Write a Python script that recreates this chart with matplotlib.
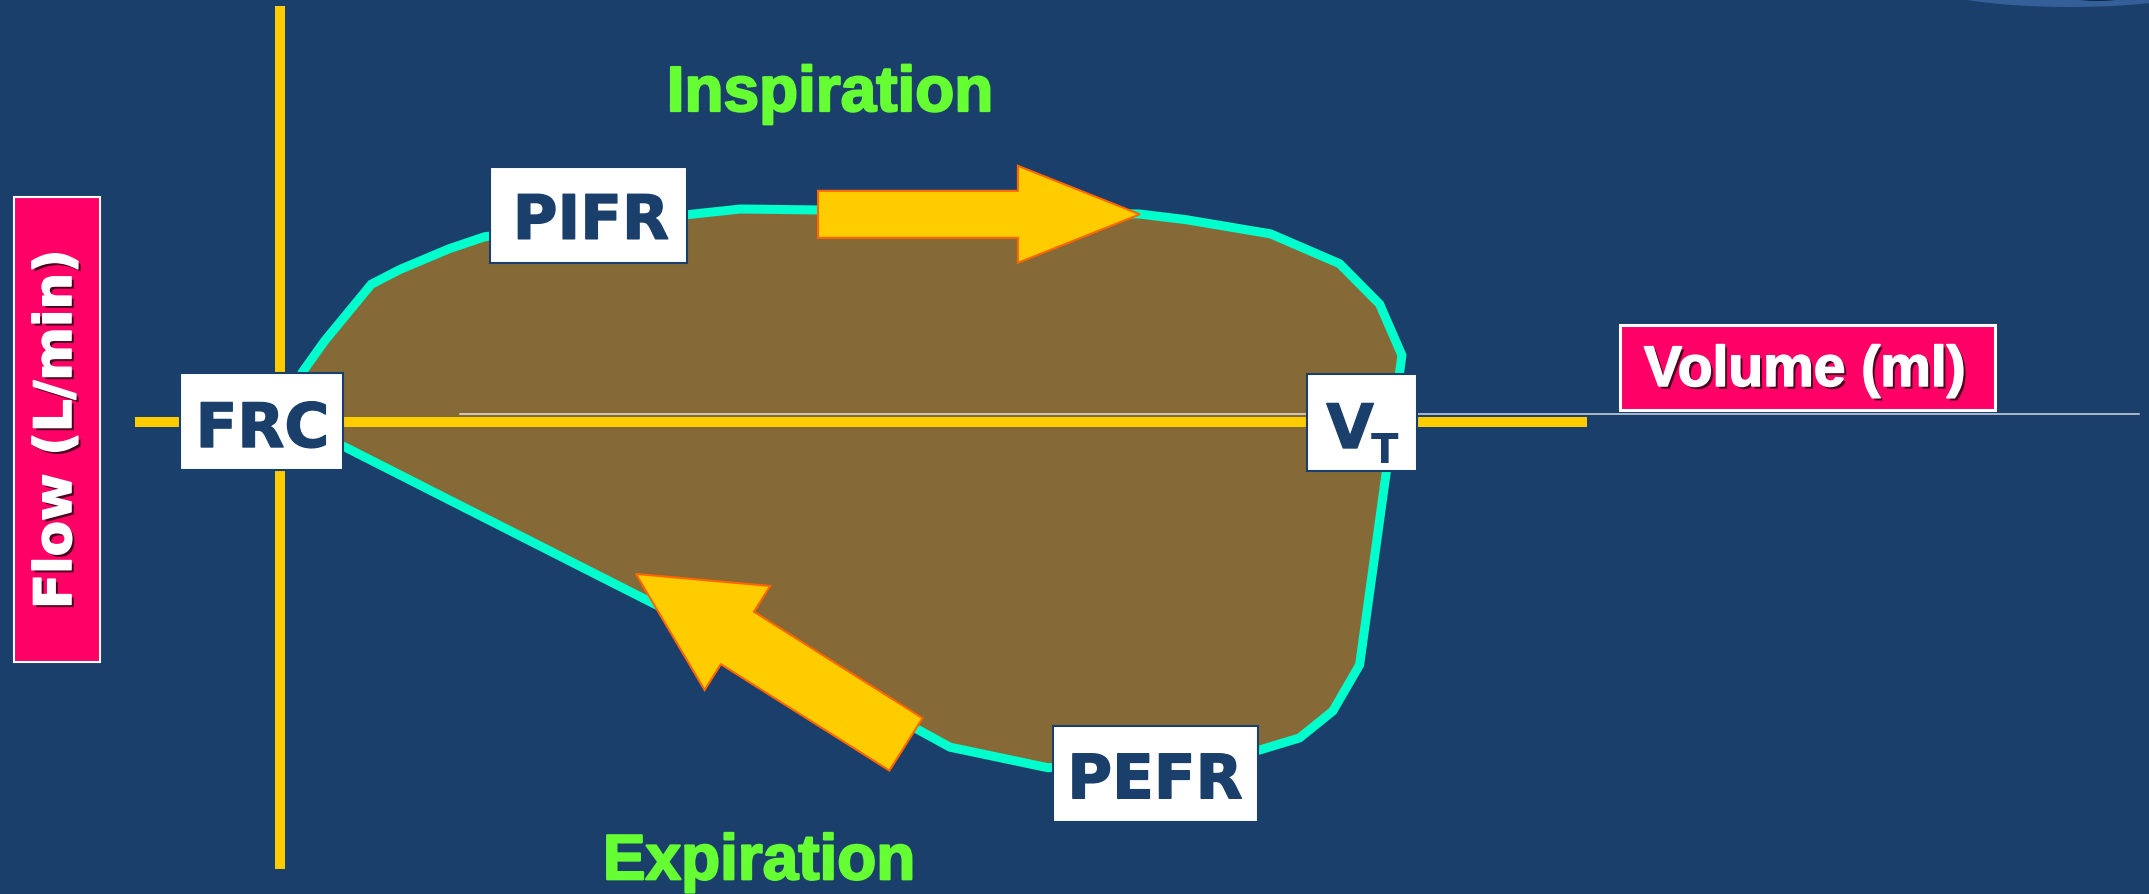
import numpy as np
import matplotlib.pyplot as plt
import matplotlib.patheffects as pe
from matplotlib.patches import Polygon, Rectangle, Ellipse
from matplotlib.transforms import IdentityTransform

# flow-volume loop: volume in ml, flow in L/min (inspiration drawn upward)
insp_volume = [0, 10, 20, 41, 54, 76, 92, 183, 207, 386, 407, 445, 476, 494, 504, 500]
insp_flow = [0, 7.0, 11.4, 19.4, 21.5, 24.4, 26.1, 29.2, 30.0, 29.3, 28.5, 26.5, 22.3, 16.6, 9.4, 0]
exp_volume = [500, 497, 485, 473, 458, 439, 345, 301, 287, 168, 29, 0]
exp_flow = [0, -7.0, -34.2, -40.7, -44.5, -46.3, -48.7, -45.8, -43.4, -25.6, -3.5, 0]

point_labels = ["FRC", "PIFR", "PEFR"]
phase_labels = ["Inspiration", "Expiration"]
x_title = "Volume (ml)"
y_title = "Flow (L/min)"

BG = "#1B3F6B"
NAVY = "#1B3F6B"
YELLOW = "#FFCC00"
ORANGE = "#FF6600"
CYAN = "#00FFCC"
BROWN = "#856A38"
PINK = "#FF0066"
GREEN = "#66FF33"

# pixel scale of the picture (2149 x 895 at dpi 100)
PX_ML = 2.226
PX_LMIN = 7.1
W, H = 2149, 895
X0, Y0 = 280, 423

fig = plt.figure(figsize=(W / 100, H / 100), dpi=100, facecolor=BG)
ax = fig.add_axes([0, 0, 1, 1])
ax.set_facecolor(BG)
ax.set_xlim(-X0 / PX_ML, (W - X0) / PX_ML)
ax.set_ylim(-(H - Y0) / PX_LMIN, Y0 / PX_LMIN)
ax.axis("off")


def block_arrow(tail, tip, body, head, head_len, **kw):
    # arrow shape built in pixels so it is not sheared by the axes scale
    p0 = ax.transData.transform(tail)
    p1 = ax.transData.transform(tip)
    d = p1 - p0
    u = d / np.hypot(*d)
    n = np.array([-u[1], u[0]])
    base = p1 - u * head_len
    pts = [p0 + n * body / 2, base + n * body / 2, base + n * head / 2, p1,
           base - n * head / 2, base - n * body / 2, p0 - n * body / 2]
    ax.add_patch(Polygon(pts, closed=True, transform=IdentityTransform(), **kw))


def white_box(cx, cy, w, h):
    ax.add_patch(Rectangle((cx - w / 2, cy - h / 2), w, h, facecolor="white",
                           edgecolor=NAVY, lw=1.5, zorder=6))


# loop
loop_v = insp_volume + exp_volume[1:]
loop_f = insp_flow + exp_flow[1:]
ax.fill(loop_v, loop_f, color=BROWN, zorder=1)
ax.plot(loop_v, loop_f, color=CYAN, lw=6.5, solid_joinstyle="miter", zorder=2)

# axes
ax.plot([-65, 587], [0, 0], color=YELLOW, lw=7.2, solid_capstyle="butt", zorder=3)
ax.plot([0, 0], [58.6, -63.0], color=YELLOW, lw=7.2, solid_capstyle="butt", zorder=3)
ax.plot([81, 835], [1.06, 1.06], color="white", lw=1.1, alpha=0.8, zorder=3)

# direction arrows
block_arrow((241.7, 29.25), (386.3, 29.25), 47, 97, 122,
            facecolor=YELLOW, edgecolor=ORANGE, lw=1.5, zorder=5)
block_arrow((281.2, -45.4), (159.9, -21.4), 62, 123, 120,
            facecolor=YELLOW, edgecolor=ORANGE, lw=1.5, zorder=5)

# point labels
heavy_navy = [pe.withStroke(linewidth=1.0, foreground=NAVY)]
white_box(-8.3, 0.07, 73.2, 13.7)
ax.text(-7.9, -3.52, point_labels[0], ha="center", va="baseline", fontsize=44,
        fontweight="bold", color=NAVY, path_effects=heavy_navy, zorder=7)
white_box(138.6, 29.2, 88.5, 13.5)
ax.text(139.7, 25.8, point_labels[1], ha="center", va="baseline", fontsize=44,
        fontweight="bold", color=NAVY, path_effects=heavy_navy, zorder=7)
white_box(393.3, -49.6, 92.1, 13.5)
ax.text(393.1, -53.0, point_labels[2], ha="center", va="baseline", fontsize=44,
        fontweight="bold", color=NAVY, path_effects=heavy_navy, zorder=7)
white_box(486.0, -0.07, 49.4, 13.7)
ax.text(480.7, -3.66, "V", ha="center", va="baseline", fontsize=44,
        fontweight="bold", color=NAVY, path_effects=heavy_navy, zorder=7)
ax.text(496.2, -5.63, "T", ha="center", va="baseline", fontsize=29,
        fontweight="bold", color=NAVY, zorder=7)

# phase labels
heavy_green = [pe.withStroke(linewidth=1.6, foreground=GREEN)]
ax.text(247.1, 43.8, phase_labels[0], ha="center", va="baseline", fontsize=46,
        fontweight="bold", color=GREEN, family="Liberation Sans",
        path_effects=heavy_green)
ax.text(215.2, -64.4, phase_labels[1], ha="center", va="baseline", fontsize=46,
        fontweight="bold", color=GREEN, family="Liberation Sans",
        path_effects=heavy_green)

shadow = [pe.withSimplePatchShadow(offset=(2, -2), shadow_rgbFace="black", alpha=0.7),
          pe.withStroke(linewidth=1.2, foreground="white")]

# axis titles
ax.add_patch(Rectangle((-119.5, -33.8), 38.6, 65.5, facecolor=PINK,
                       edgecolor="white", lw=1.5, zorder=6))
ax.text(-100.2, -1.0, y_title, rotation=90, ha="center", va="center", fontsize=37,
        fontweight="bold", color="white", path_effects=shadow, zorder=7)
ax.add_patch(Rectangle((602, 1.69), 168.4, 11.97, facecolor=PINK,
                       edgecolor="white", lw=2.2, zorder=6))
ax.text(685.1, 7.2, x_title, ha="center", va="center", fontsize=41,
        fontweight="bold", color="white", family="Liberation Sans",
        path_effects=shadow, zorder=7)

# clipped logo at the top right corner
ax.add_patch(Ellipse((2070, H + 14), 280, 44, facecolor="#3f6ead", alpha=0.7,
                     transform=IdentityTransform(), zorder=0))
ax.add_patch(Ellipse((2098, H + 6), 80, 16, facecolor="#0f2748",
                     transform=IdentityTransform(), zorder=0))

fig.savefig("out.png", dpi=100, facecolor=BG)
